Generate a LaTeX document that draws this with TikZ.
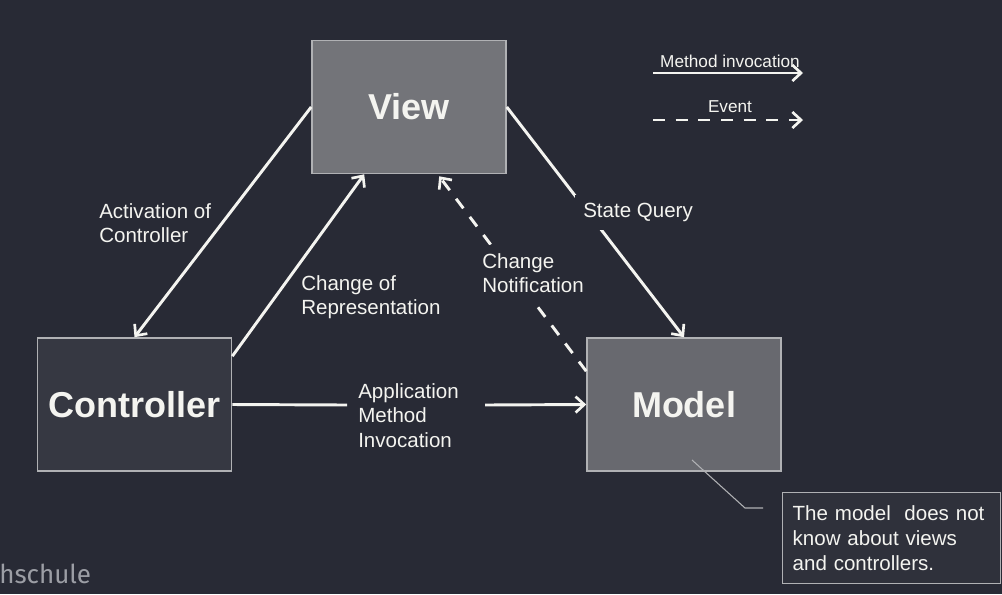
\documentclass[tikz,border=0pt]{standalone}
\usepackage{fontspec}
\setmainfont{Liberation Sans}
\newfontfamily\logofont{Fira Sans}
\usetikzlibrary{arrows.meta,calc}
\definecolor{bgc}{HTML}{282A35}
\definecolor{viewc}{HTML}{737479}
\definecolor{modelc}{HTML}{68696F}
\definecolor{ctrlc}{HTML}{363842}
\definecolor{notec}{HTML}{2F313B}
\definecolor{edgec}{HTML}{B0B1B4}
\definecolor{linec}{HTML}{F4F4F0}
\definecolor{logoc}{HTML}{9C9EA5}
\tikzset{
  box/.style={draw=edgec, line width=1.2pt, minimum width=145.5pt, minimum height=99.75pt, inner sep=0pt, text=linec, font=\fontsize{27}{31}\selectfont\bfseries},
  lbl/.style={text=linec, font=\fontsize{15.4}{18.6}\selectfont, align=left, inner sep=6pt, anchor=north west},
  masked/.style={lbl, fill=bgc},
  leg/.style={text=linec, font=\fontsize{12.9}{15}\selectfont, inner sep=0pt, anchor=base},
  conn/.style={draw=linec, line width=2.2pt, -{Straight Barb[length=6.5pt,width=12pt,line width=2pt]}},
  plain/.style={draw=linec, line width=2.2pt},
  evt/.style={conn, dash pattern=on 9pt off 8pt},
}
\begin{document}
\begin{tikzpicture}[x=0.75pt,y=-0.75pt]
\fill[bgc] (0,0) rectangle (1002,594);
\useasboundingbox (0,0) rectangle (1002,594);

\node[box, fill=viewc] (view) at (409,107) {View};
\node[box, fill=ctrlc] (ctrl) at (134.5,404.5) {Controller};
\node[box, fill=modelc] (model) at (684,404.5) {Model};

% connectors
\draw[conn] (view.west) -- (ctrl.north);
\draw[conn] ($(ctrl.north east)+(0,19)$) -- ($(view.south west)+(53,0)$);
\draw[evt] ($(model.north west)+(0,34)$) -- ($(view.south west)+(128,2)$);
\draw[conn] (view.east) -- (model.north);
\coordinate (a1) at (347,405);
\coordinate (a2) at (485,405);
\draw[plain] (ctrl.east) -- (a1);
\draw[conn] (a2) -- (model.west);

% labels
\node[lbl] (l1) at (91,195) {Activation of\\Controller};
\node[lbl] (l2) at (293,267) {Change of\\Representation};
\node[masked] (l3) at (474,245) {Change\\Notification};
\node[masked] (l4) at (575,195) {State Query};
\node[lbl] (l5) at (350,375) {Application\\Method\\Invocation};

% legend
\coordinate (m1) at (653,73);
\coordinate (m2) at (803,73);
\coordinate (e1) at (653,120);
\coordinate (e2) at (803,120);
\draw[conn] (m1) -- (m2);
\draw[evt] (e1) -- (e2);
\node[leg] (lm) at (730,67) {Method invocation};
\node[leg] (le) at (730,112) {Event};

% note
\node[draw=edgec, line width=1pt, fill=notec, anchor=north west, text=linec,
      font=\fontsize{15.4}{18.6}\selectfont, align=left,
      text width=148.5pt, minimum height=68.25pt, minimum width=163.5pt,
      inner xsep=7.5pt, inner ysep=0pt] (note) at (782,492)
      {The model\ \ does not\\know about views\\and controllers.};
\coordinate (c1) at (692,460);
\coordinate (c2) at (745,508);
\coordinate (c3) at (763,508);
\draw[edgec, line width=0.8pt] (c1) -- (c2) -- (c3);

% logo fragment
\node[text=logoc, font=\logofont\fontsize{19.5}{22}\selectfont, inner sep=0pt, anchor=base west] (logo) at (-1,583) {hschule};
\end{tikzpicture}
\end{document}
